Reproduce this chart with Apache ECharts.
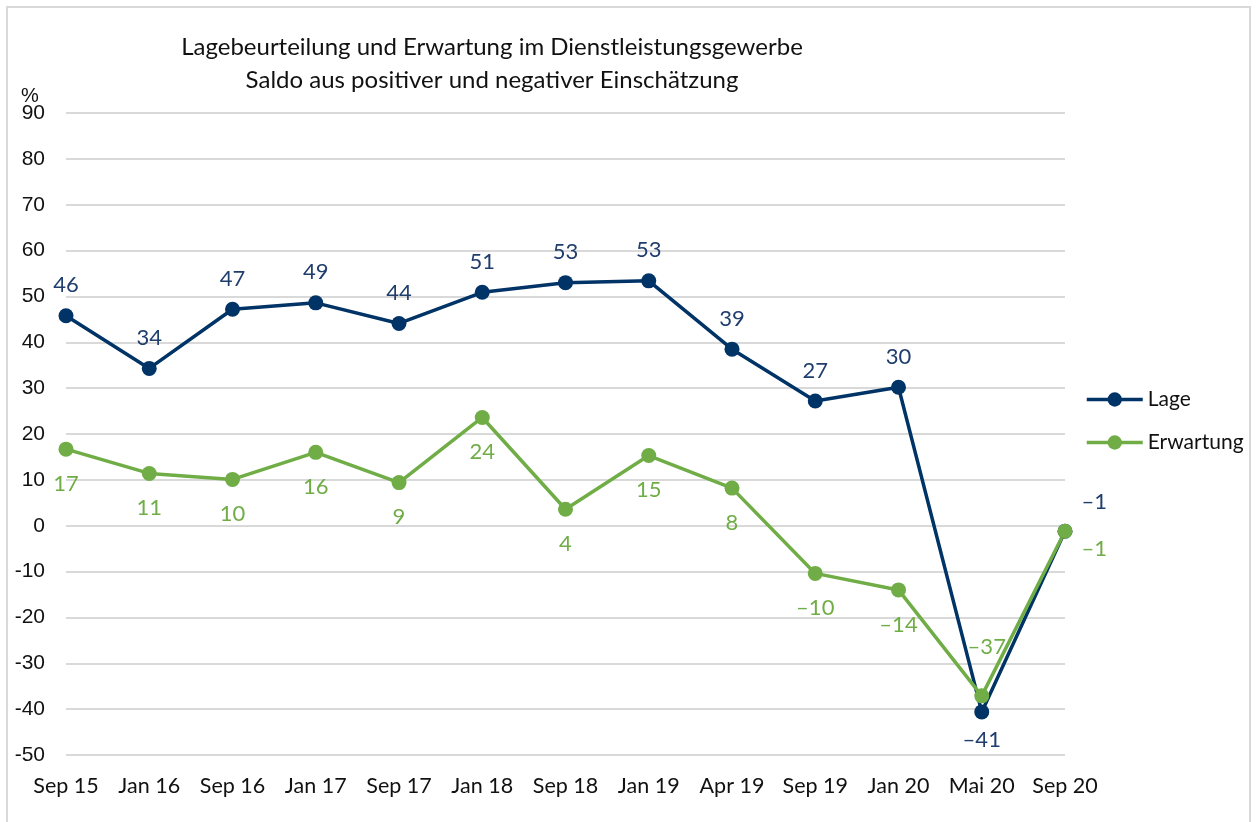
<!DOCTYPE html>
<html>
<head>
<meta charset="utf-8">
<script src="https://cdn.jsdelivr.net/npm/echarts@6/dist/echarts.min.js"></script>
<style>
  html, body { margin: 0; padding: 0; background: #fff; overflow: hidden; }
  #frame {
    position: absolute; left: 6px; top: 6px; width: 1245px; height: 840px;
    border: 2px solid #d9d9d9; box-sizing: border-box;
  }
  #chart { position: absolute; left: 0; top: 0; width: 1258px; height: 822px; }
</style>
</head>
<body>
<div id="frame"></div>
<div id="chart"></div>
<script>
// Stichtage der Umfrage
const categories = ['Sep 15', 'Jan 16', 'Sep 16', 'Jan 17', 'Sep 17', 'Jan 18', 'Sep 18',
  'Jan 19', 'Apr 19', 'Sep 19', 'Jan 20', 'Mai 20', 'Sep 20']

// Saldo in %
const lage = [45.8, 34.3, 47.2, 48.6, 44.1, 50.9, 53.0, 53.4, 38.5, 27.2, 30.2, -40.6, -1.2]
const erwartung = [16.7, 11.4, 10.1, 16.0, 9.4, 23.6, 3.6, 15.3, 8.2, -10.4, -14.0, -37.1, -1.2]

const yTicks = { min: -50, max: 90, step: 10 }

const LAGE_COLOR = '#003366'
const LAGE_LABEL = '#1f3d6d'
const ERW_COLOR = '#70ad47'
const FONT = 'Lato, "Noto Sans", sans-serif'

const fmt = p => {
  const v = Math.round(p.value)
  return v < 0 ? '\u2013' + Math.abs(v) : String(v)
}

// Sonderpositionen der Beschriftungen
const lageData = lage.map((v, i) => {
  if (i === 11) return { value: v, label: { position: 'bottom', distance: 10 } }
  if (i === 12) return { value: v, label: { position: 'right', distance: 9, offset: [0, -29] } }
  return v
})
const erwData = erwartung.map((v, i) => {
  if (i === 11) return { value: v, label: { position: 'top', distance: 12, offset: [5, -18] } }
  if (i === 12) return { value: v, label: { position: 'right', distance: 9, offset: [0, 18] } }
  return v
})

const chart = echarts.init(document.getElementById('chart'))

const option = {
  animation: false,
  title: {
    text: 'Lagebeurteilung und Erwartung im Dienstleistungsgewerbe\nSaldo aus positiver und negativer Einschätzung',
    left: 487,
    top: 26,
    textAlign: 'center',
    textStyle: { fontFamily: FONT, fontSize: 24, fontWeight: 'normal', color: '#111', lineHeight: 33 }
  },
  graphic: [{
    type: 'text',
    left: 21,
    top: 86,
    style: { text: '%', fontFamily: 'Arial, "Liberation Sans", sans-serif', fontSize: 20, fill: '#111' }
  }],
  legend: {
    orient: 'vertical',
    left: 1080,
    top: 384,
    itemWidth: 56,
    itemHeight: 18,
    itemGap: 22,
    lineStyle: { width: 3.5 },
    textStyle: { fontFamily: FONT, fontSize: 21, color: '#111', lineHeight: 21 },
    data: ['Lage', 'Erwartung']
  },
  grid: { left: 66, right: 193, top: 113, bottom: 67 },
  xAxis: {
    type: 'category',
    data: categories,
    boundaryGap: false,
    axisLine: { show: false },
    axisTick: { show: false },
    axisLabel: { fontFamily: FONT, fontSize: 21.5, color: '#111', margin: 20, interval: 0 }
  },
  yAxis: {
    type: 'value',
    min: yTicks.min,
    max: yTicks.max,
    interval: yTicks.step,
    axisLine: { show: false },
    axisTick: { show: false },
    axisLabel: { fontFamily: 'Arial, "Liberation Sans", sans-serif', fontSize: 21, color: '#111', margin: 21 },
    splitLine: { lineStyle: { color: '#d9d9d9', width: 2 } }
  },
  series: [
    {
      name: 'Lage',
      type: 'line',
      data: lageData,
      symbol: 'circle',
      symbolSize: 15,
      itemStyle: { color: LAGE_COLOR },
      lineStyle: { color: LAGE_COLOR, width: 3.5 },
      label: {
        show: true, position: 'top', distance: 12, formatter: fmt,
        fontFamily: FONT, fontSize: 22, color: LAGE_LABEL
      }
    },
    {
      name: 'Erwartung',
      type: 'line',
      data: erwData,
      symbol: 'circle',
      symbolSize: 15,
      itemStyle: { color: ERW_COLOR },
      lineStyle: { color: ERW_COLOR, width: 3.5 },
      label: {
        show: true, position: 'bottom', distance: 16, formatter: fmt,
        fontFamily: FONT, fontSize: 22, color: ERW_COLOR
      }
    }
  ]
}

chart.setOption(option)
</script>
</body>
</html>
